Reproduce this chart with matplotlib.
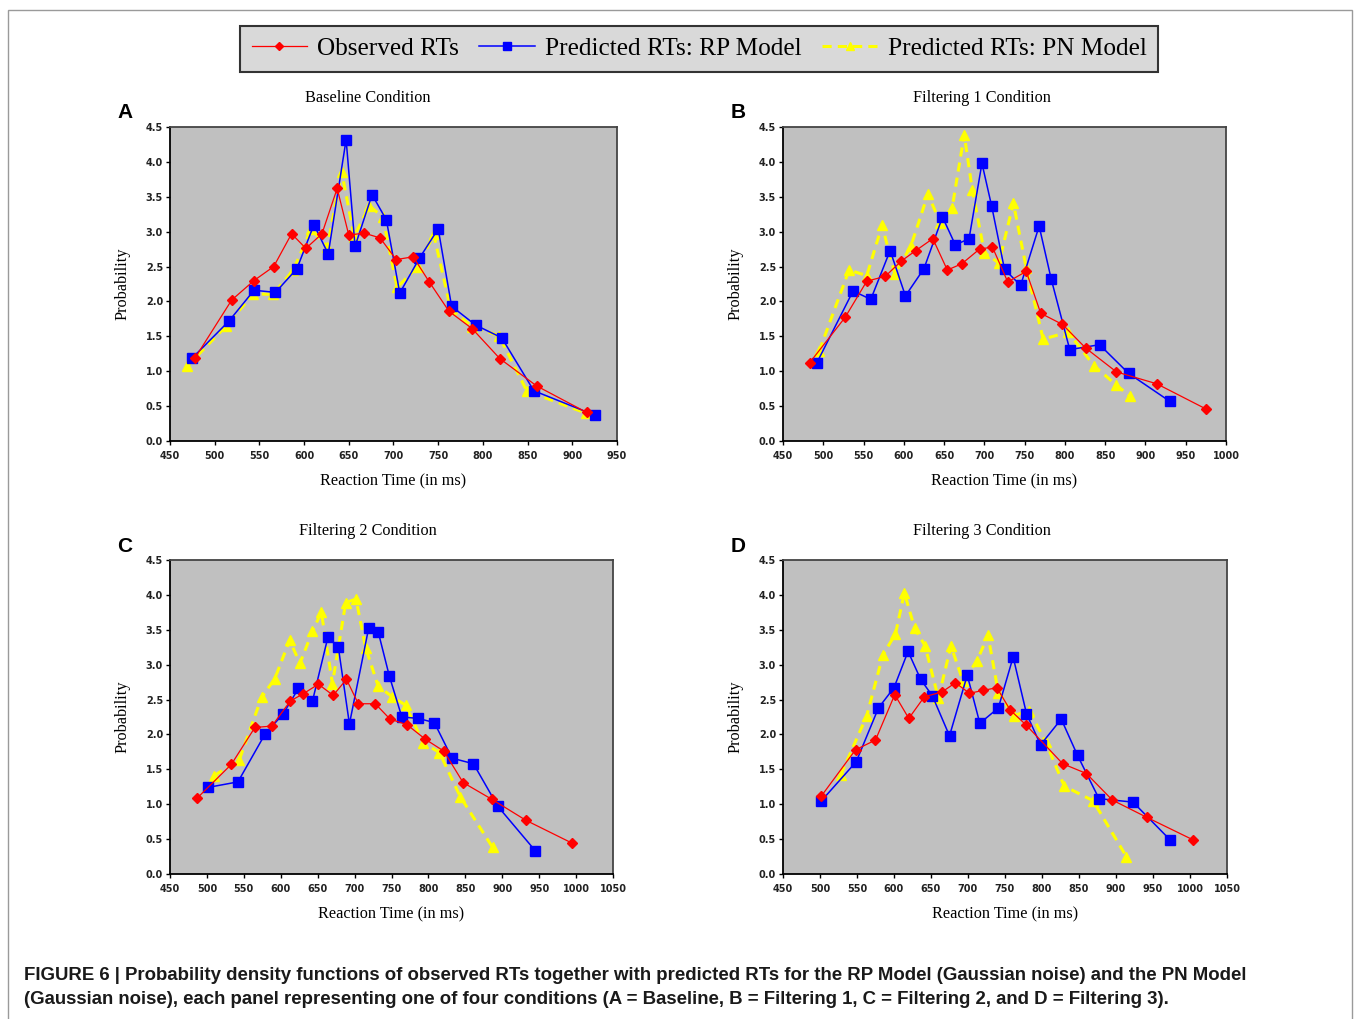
import matplotlib
matplotlib.use("Agg")
import matplotlib.pyplot as plt
from matplotlib.patches import Rectangle

W, H = 1355, 1019

# ---- data (RT in ms, probability) ----
# A: Baseline
a_obs_x = [478, 519, 544, 566, 586, 602, 620, 637, 650, 667, 685, 703, 722, 740, 762, 788, 819, 860, 916]
a_obs_y = [1.19, 2.02, 2.30, 2.50, 2.97, 2.76, 2.97, 3.62, 2.95, 2.98, 2.91, 2.60, 2.64, 2.28, 1.86, 1.61, 1.18, 0.79, 0.41]
a_rp_x = [475, 516, 544, 568, 592, 611, 627, 647, 657, 676, 692, 707, 729, 750, 765, 792, 821, 857, 925]
a_rp_y = [1.19, 1.72, 2.16, 2.13, 2.47, 3.10, 2.68, 4.32, 2.79, 3.53, 3.17, 2.12, 2.62, 3.04, 1.93, 1.66, 1.48, 0.72, 0.37]
a_pn_x = [469, 513, 543, 565, 588, 608, 626, 642, 656, 673, 688, 704, 727, 745, 764, 788, 818, 849, 915]
a_pn_y = [1.07, 1.65, 2.11, 2.10, 2.45, 3.04, 2.78, 3.86, 2.93, 3.37, 3.21, 2.20, 2.50, 2.96, 1.89, 1.64, 1.51, 0.72, 0.40]

# B: Filtering 1
b_obs_x = [483, 527, 554, 577, 597, 615, 636, 654, 672, 694, 710, 729, 752, 770, 797, 826, 864, 914, 975]
b_obs_y = [1.12, 1.77, 2.29, 2.36, 2.58, 2.73, 2.90, 2.45, 2.54, 2.75, 2.78, 2.28, 2.43, 1.83, 1.67, 1.33, 0.99, 0.82, 0.46]
b_rp_x = [492, 537, 559, 583, 602, 625, 648, 664, 681, 697, 709, 725, 745, 768, 783, 806, 843, 879, 930]
b_rp_y = [1.12, 2.15, 2.03, 2.73, 2.08, 2.47, 3.21, 2.81, 2.90, 3.98, 3.37, 2.46, 2.23, 3.08, 2.32, 1.31, 1.38, 0.97, 0.57]
b_pn_x = [495, 532, 554, 573, 589, 609, 630, 645, 660, 675, 685, 700, 718, 736, 752, 773, 804, 836, 864, 881]
b_pn_y = [1.29, 2.45, 2.37, 3.09, 2.39, 2.80, 3.54, 3.13, 3.34, 4.39, 3.60, 2.70, 2.55, 3.41, 2.48, 1.46, 1.56, 1.08, 0.80, 0.64]

# C: Filtering 2
c_obs_x = [487, 533, 565, 588, 613, 630, 651, 671, 689, 705, 728, 748, 771, 796, 821, 847, 886, 932, 995]
c_obs_y = [1.09, 1.57, 2.10, 2.12, 2.48, 2.58, 2.72, 2.56, 2.79, 2.44, 2.44, 2.22, 2.14, 1.93, 1.76, 1.31, 1.07, 0.77, 0.44]
c_rp_x = [501, 542, 579, 603, 624, 643, 664, 678, 693, 719, 732, 747, 764, 786, 808, 832, 861, 894, 945]
c_rp_y = [1.24, 1.32, 2.01, 2.29, 2.66, 2.48, 3.40, 3.25, 2.15, 3.52, 3.47, 2.84, 2.25, 2.23, 2.17, 1.66, 1.58, 0.97, 0.33]
c_pn_x = [510, 544, 574, 592, 612, 626, 643, 655, 670, 688, 702, 715, 732, 751, 769, 793, 815, 843, 887]
c_pn_y = [1.41, 1.64, 2.53, 2.80, 3.35, 3.02, 3.48, 3.75, 2.73, 3.89, 3.94, 3.24, 2.69, 2.54, 2.42, 1.88, 1.74, 1.11, 0.38]

# D: Filtering 3
d_obs_x = [502, 548, 575, 601, 620, 641, 665, 683, 702, 720, 739, 757, 779, 828, 860, 895, 942, 1004]
d_obs_y = [1.12, 1.78, 1.92, 2.57, 2.23, 2.54, 2.61, 2.74, 2.59, 2.63, 2.67, 2.35, 2.13, 1.58, 1.44, 1.06, 0.81, 0.49]
d_rp_x = [502, 549, 579, 600, 619, 636, 652, 675, 699, 716, 741, 761, 779, 798, 826, 848, 877, 923, 973]
d_rp_y = [1.05, 1.61, 2.38, 2.67, 3.19, 2.79, 2.55, 1.98, 2.85, 2.16, 2.38, 3.11, 2.30, 1.85, 2.22, 1.70, 1.08, 1.03, 0.49]
d_pn_x = [528, 563, 585, 602, 614, 628, 642, 660, 677, 693, 712, 727, 741, 762, 783, 805, 830, 869, 914]
d_pn_y = [1.42, 2.26, 3.14, 3.44, 4.03, 3.52, 3.27, 2.52, 3.27, 2.77, 3.05, 3.42, 2.60, 2.27, 2.34, 1.89, 1.26, 1.05, 0.25]

titles = ["Baseline Condition", "Filtering 1 Condition", "Filtering 2 Condition", "Filtering 3 Condition"]
letters = ["A", "B", "C", "D"]
xmax = [950, 1000, 1050, 1050]
series = [
    (a_obs_x, a_obs_y, a_rp_x, a_rp_y, a_pn_x, a_pn_y),
    (b_obs_x, b_obs_y, b_rp_x, b_rp_y, b_pn_x, b_pn_y),
    (c_obs_x, c_obs_y, c_rp_x, c_rp_y, c_pn_x, c_pn_y),
    (d_obs_x, d_obs_y, d_rp_x, d_rp_y, d_pn_x, d_pn_y),
]
legend_labels = ["Observed RTs", "Predicted RTs: RP Model", "Predicted RTs: PN Model"]

# pixel boxes of the plot areas (x0, y0, x1, y1) and title centres
boxes = [(170, 127, 617, 441), (783, 127, 1226, 441), (170, 560, 613, 874), (783, 560, 1227, 874)]
title_x = [368, 982, 368, 982]

serif = ["Liberation Serif", "DejaVu Serif"]

fig = plt.figure(figsize=(W / 100, H / 100), dpi=100)
fig.patch.set_facecolor("white")

# outer frame
fig.patches.append(Rectangle((8 / W, -0.01), (1352 - 8) / W, 1 - 10 / H + 0.01,
                             transform=fig.transFigure, fill=False, edgecolor="#9a9a9a", lw=1.0))

handles = None
for i, (x0, y0, x1, y1) in enumerate(boxes):
    ax = fig.add_axes([x0 / W, 1 - y1 / H, (x1 - x0) / W, (y1 - y0) / H])
    ax.set_facecolor("#c0c0c0")
    ox, oy, rx, ry, px, py = series[i]
    l1, = ax.plot(ox, oy, color="#ff0000", lw=0.9, marker="D", ms=5, mfc="#ff0000", mec="#ff0000", zorder=4)
    l2, = ax.plot(rx, ry, color="#0000ff", lw=1.1, marker="s", ms=6.5, mfc="#0000ff", mec="#0000ff", zorder=3)
    l3, = ax.plot(px, py, color="#ffff00", lw=2.2, ls=(0, (3, 2)), marker="^", ms=7, mfc="#ffff00", mec="#ffff00", zorder=2)
    if handles is None:
        handles = [l1, l2, l3]
    ax.set_xlim(450, xmax[i])
    ax.set_ylim(0, 4.5)
    ax.set_xticks(range(450, xmax[i] + 1, 50))
    ax.set_yticks([k * 0.5 for k in range(10)])
    ax.set_yticklabels(["%.1f" % (k * 0.5) for k in range(10)])
    ax.tick_params(direction="out", length=3, width=1, labelsize=7, pad=2)
    ax.tick_params(axis="x", pad=4)
    for lab in ax.get_xticklabels() + ax.get_yticklabels():
        lab.set_fontweight("bold")
        lab.set_color("#222222")
    for s in ["left", "bottom"]:
        ax.spines[s].set_color("black")
        ax.spines[s].set_linewidth(1.3)
    for s in ["top", "right"]:
        ax.spines[s].set_color("#444444")
        ax.spines[s].set_linewidth(1.3)
    fig.text(title_x[i] / W, 1 - (y0 - 29) / H, titles[i], family=serif, fontsize=11.7,
             ha="center", va="center")
    ax.set_xlabel("Reaction Time (in ms)", family=serif, fontsize=11.7, labelpad=9)
    ax.set_ylabel("Probability", family=serif, fontsize=11.7, labelpad=11)
    fig.text((x0 - 45) / W, 1 - (y0 - 14) / H, letters[i], fontsize=15, fontweight="bold",
             family=["Liberation Sans", "DejaVu Sans"], ha="center", va="center")

leg = fig.legend(handles, legend_labels, loc="center", bbox_to_anchor=(699 / W, 1 - 49 / H),
                 ncol=3, prop={"family": serif, "size": 18.2}, frameon=True, fancybox=False,
                 framealpha=1, facecolor="#d9d9d9", edgecolor="#333333", handlelength=2.2,
                 columnspacing=0.8, handletextpad=0.4, borderpad=0.45, markerscale=0.8)
leg.get_frame().set_linewidth(1.5)

cap_font = ["Liberation Sans Narrow", "Liberation Sans", "DejaVu Sans"]
fig.text(24 / W, 1 - 976 / H,
         "FIGURE 6 | Probability density functions of observed RTs together with predicted RTs for the RP Model (Gaussian noise) and the PN Model",
         family=cap_font, fontweight="bold", fontsize=13.45, ha="left", va="center", color="#1a1a1a")
fig.text(24 / W, 1 - 1000 / H,
         "(Gaussian noise), each panel representing one of four conditions (A = Baseline, B = Filtering 1, C = Filtering 2, and D = Filtering 3).",
         family=cap_font, fontweight="bold", fontsize=13.45, ha="left", va="center", color="#1a1a1a")

fig.savefig("out.png", dpi=100)
